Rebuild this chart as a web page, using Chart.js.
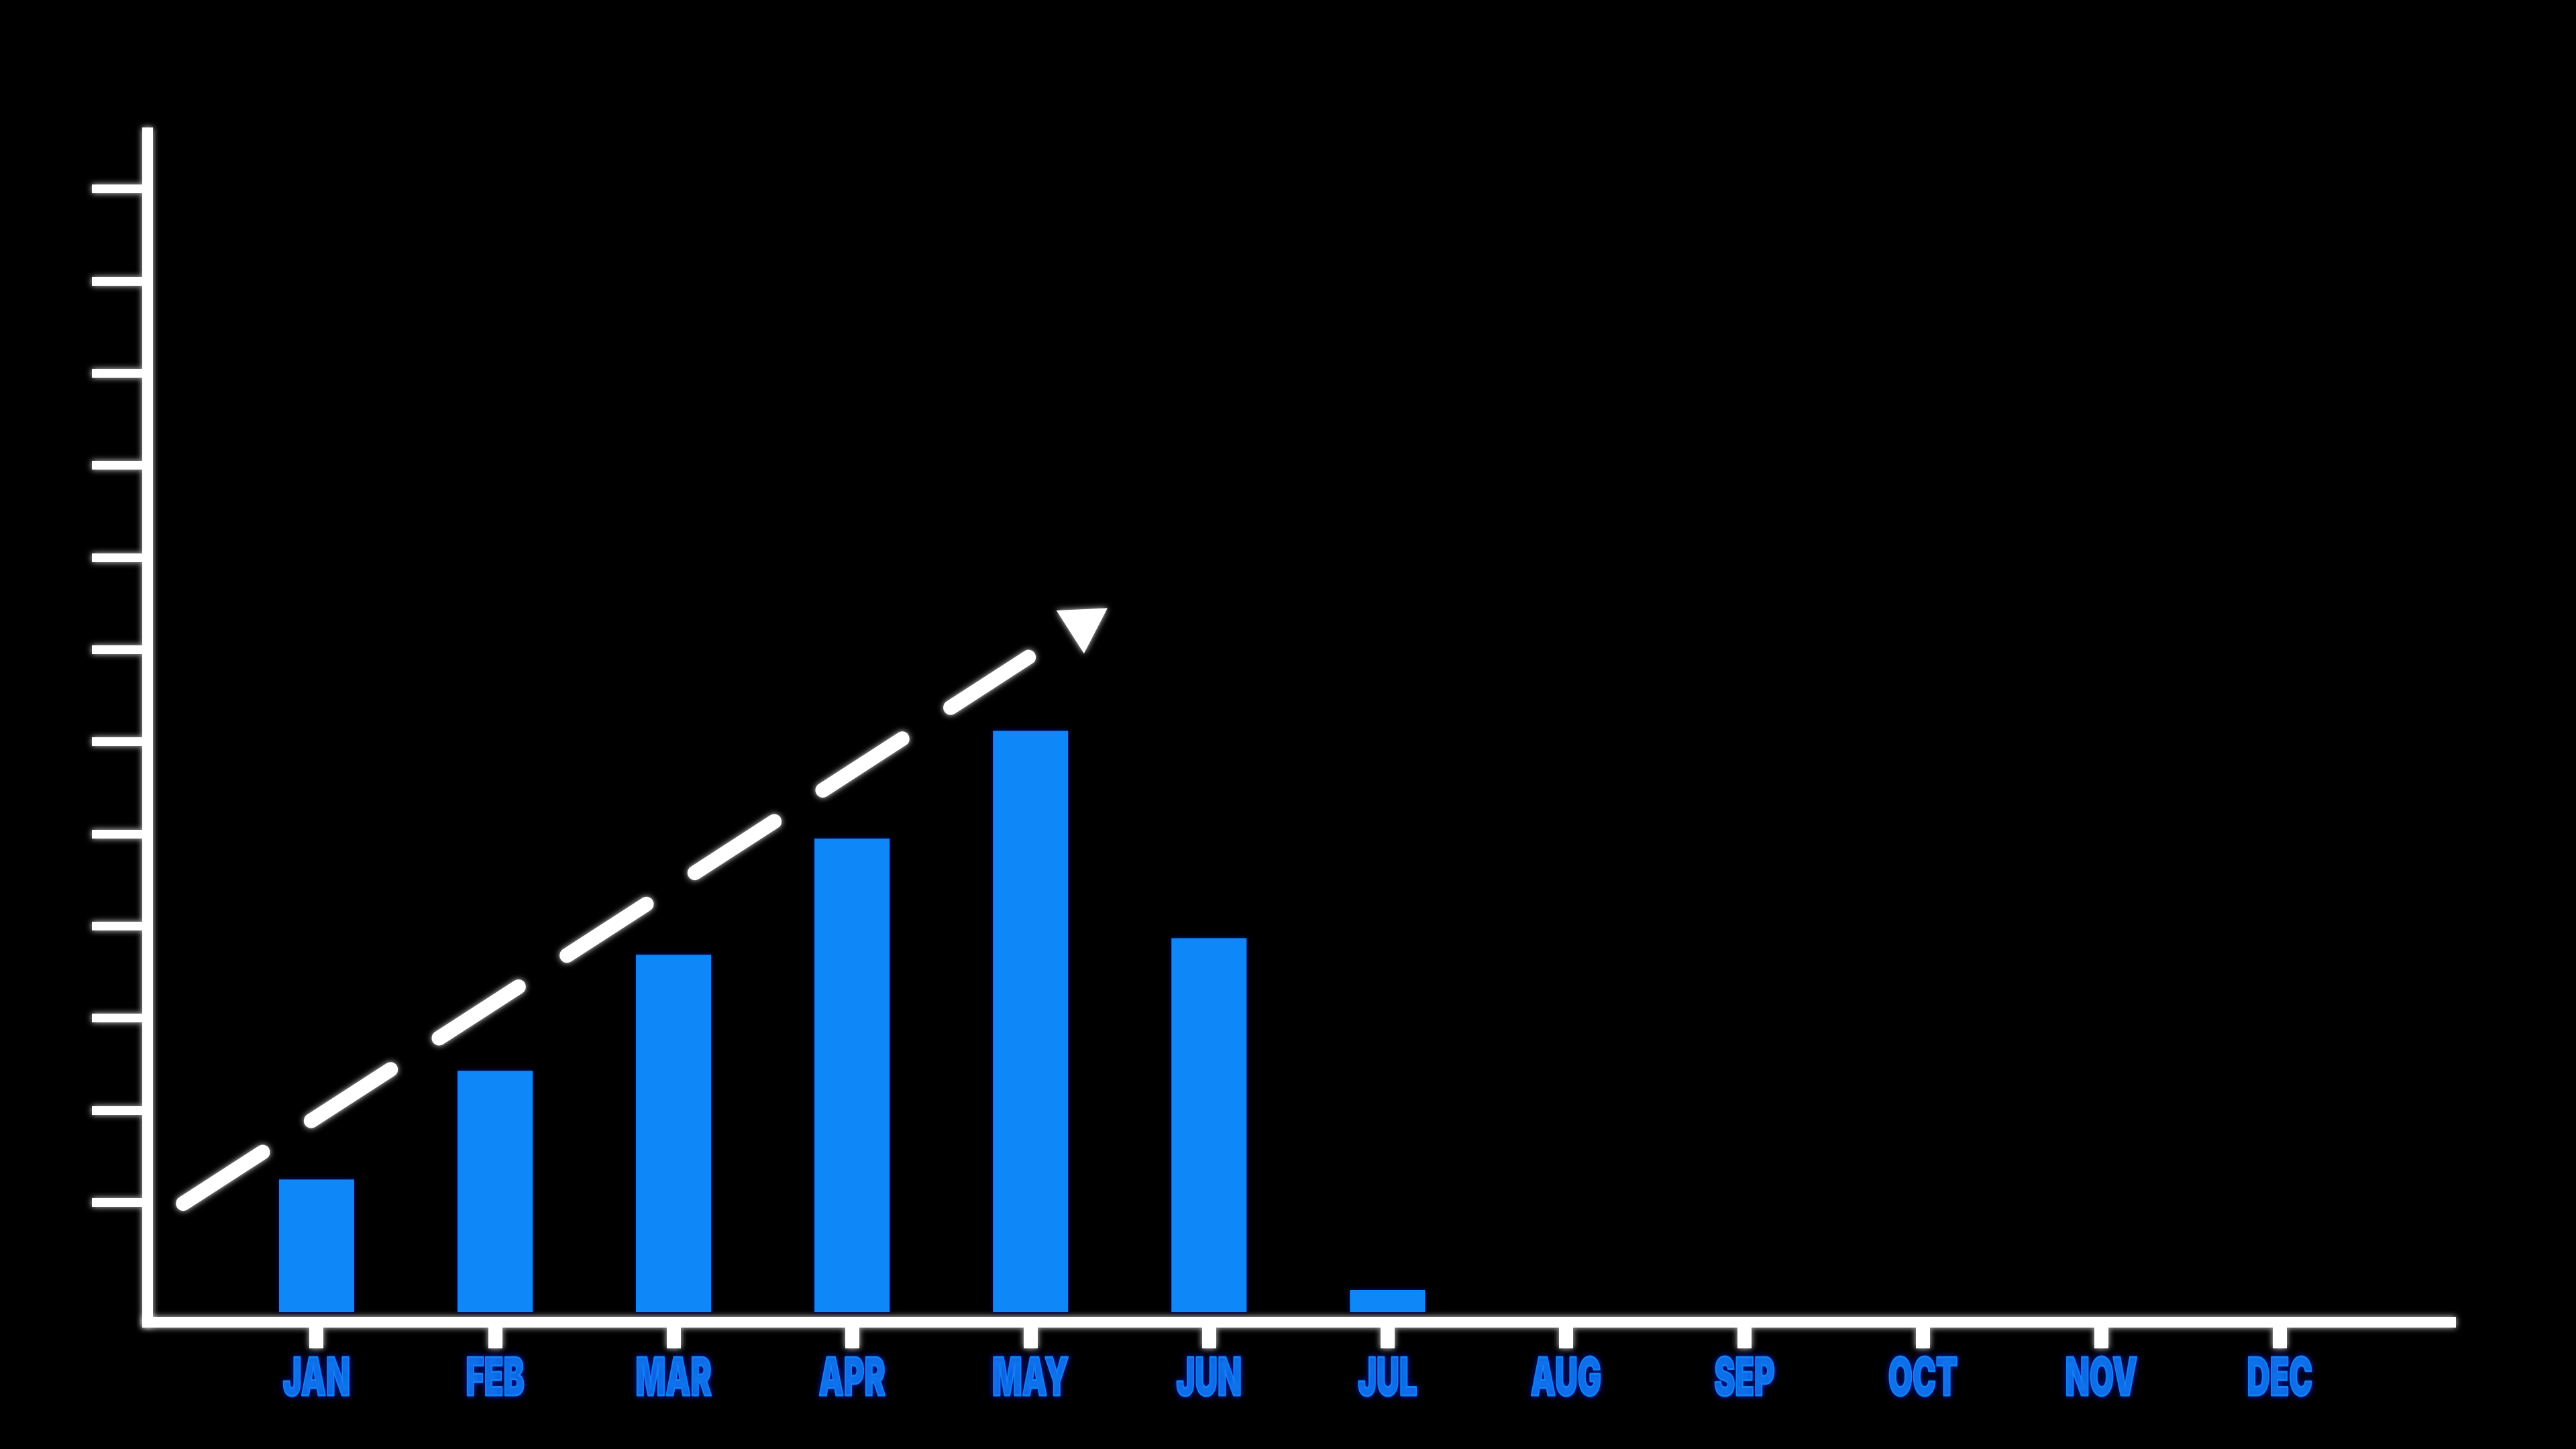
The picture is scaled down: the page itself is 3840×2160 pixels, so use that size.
<!DOCTYPE html>
<html>
<head>
<meta charset="utf-8">
<script src="https://cdn.jsdelivr.net/npm/chart.js@4.4.1/dist/chart.umd.min.js"></script>
<style>
  html, body { margin: 0; padding: 0; background: #000; }
  #c { display: block; }
</style>
</head>
<body>
<canvas id="c" width="3840" height="2160"></canvas>
<script>
// ---- data ----
const months = ['JAN', 'FEB', 'MAR', 'APR', 'MAY', 'JUN', 'JUL', 'AUG', 'SEP', 'OCT', 'NOV', 'DEC'];
const values = [1.44, 2.62, 3.88, 5.14, 6.31, 4.06, 0.24, null, null, null, null, null];
const yTickValues = [1.19, 2.19, 3.19, 4.19, 5.19, 6.19, 7.19, 8.19, 9.19, 10.19, 11.19, 12.19];
const trendX = [-0.747, 3.989];
const trendY = [1.18, 7.109];
const arrowX = [4.292];
const arrowY = [7.468];

// ---- scale ranges ----
const X_MIN = -0.947, X_MAX = 11.945;
const Y_MIN = -0.109, Y_MAX = 12.80;

const BLUE = '#0e88f8';
const LABEL_BLUE = '#1282f2';
const LABEL_FONT = "900 78px Inter, 'DejaVu Sans', sans-serif";
const LABEL_SQUEEZE = 0.6;     // condensed look
const LABEL_BASELINE = 109;    // px below top of x scale

const glow = {
  id: 'glow',
  beforeDraw(chart) {
    const ctx = chart.ctx;
    ctx.shadowColor = 'rgba(255,255,255,0.85)';
    ctx.shadowBlur = 10;
  },
  beforeDatasetDraw(chart, args) {
    const ctx = chart.ctx;
    if (args.meta.type === 'bar') {
      ctx.shadowColor = 'rgba(0,20,160,0.9)';
      ctx.shadowBlur = 6;
    } else {
      ctx.shadowColor = 'rgba(255,255,255,0.85)';
      ctx.shadowBlur = 10;
    }
  },
  afterDraw(chart) {
    // month labels of the x scale, drawn condensed at the scale's tick positions
    const ctx = chart.ctx;
    const xs = chart.scales.x;
    ctx.save();
    ctx.shadowColor = 'rgba(0,30,200,0.9)';
    ctx.shadowBlur = 10;
    ctx.font = LABEL_FONT;
    ctx.fillStyle = LABEL_BLUE;
    ctx.strokeStyle = LABEL_BLUE;
    ctx.lineWidth = 3;
    ctx.lineJoin = 'round';
    ctx.textAlign = 'center';
    ctx.textBaseline = 'alphabetic';
    xs.ticks.forEach((t, i) => {
      const label = months[Math.round(t.value)];
      const px = xs.getPixelForTick(i);
      ctx.save();
      ctx.translate(px, xs.top + LABEL_BASELINE);
      ctx.scale(LABEL_SQUEEZE, 1);
      ctx.fillText(label, 0, 0);
      ctx.strokeText(label, 0, 0);
      ctx.restore();
    });
    ctx.restore();
    ctx.shadowColor = 'rgba(0,0,0,0)';
    ctx.shadowBlur = 0;
  }
};

new Chart(document.getElementById('c'), {
  type: 'bar',
  data: {
    datasets: [
      {
        type: 'line',
        label: 'arrow',
        data: arrowX.map((x, i) => ({ x: x, y: arrowY[i] })),
        showLine: false,
        pointStyle: 'triangle',
        pointRadius: 44,
        pointHoverRadius: 44,
        pointRotation: 57.4,
        pointBackgroundColor: '#ffffff',
        pointBorderColor: '#ffffff',
        pointBorderWidth: 0
      },
      {
        type: 'line',
        label: 'trend',
        data: trendX.map((x, i) => ({ x: x, y: trendY[i] })),
        borderColor: '#ffffff',
        borderWidth: 22,
        borderDash: [141, 86],
        borderCapStyle: 'round',
        pointRadius: 0,
        pointHoverRadius: 0,
        tension: 0,
        fill: false
      },
      {
        type: 'bar',
        label: 'sales',
        data: values.map((v, i) => ({ x: i, y: v })),
        backgroundColor: BLUE,
        borderWidth: 0,
        base: 0,
        categoryPercentage: 1,
        barPercentage: 0.421
      }
    ]
  },
  options: {
    responsive: false,
    devicePixelRatio: 1,
    animation: false,
    events: [],
    layout: { padding: { left: 137, top: 198, right: 190, bottom: 150 } },
    plugins: {
      legend: { display: false },
      tooltip: { enabled: false },
      title: { display: false }
    },
    scales: {
      x: {
        type: 'linear',
        offset: false,
        min: X_MIN,
        max: X_MAX,
        afterBuildTicks: (s) => { s.ticks = months.map((m, i) => ({ value: i })); },
        ticks: {
          display: false,
          callback: (v) => months[Math.round(v)],
          autoSkip: false,
          maxRotation: 0
        },
        grid: { offset: false, drawOnChartArea: false, drawTicks: true, tickLength: 39, color: '#ffffff', lineWidth: 21 },
        border: { display: true, color: '#ffffff', width: 16 }
      },
      y: {
        type: 'linear',
        min: Y_MIN,
        max: Y_MAX,
        afterBuildTicks: (s) => { s.ticks = yTickValues.map((v) => ({ value: v })); },
        ticks: { display: false },
        grid: { drawOnChartArea: false, drawTicks: true, tickLength: 83, color: '#ffffff', lineWidth: 13 },
        border: { display: true, color: '#ffffff', width: 16 }
      }
    }
  },
  plugins: [glow]
});
</script>
</body>
</html>
